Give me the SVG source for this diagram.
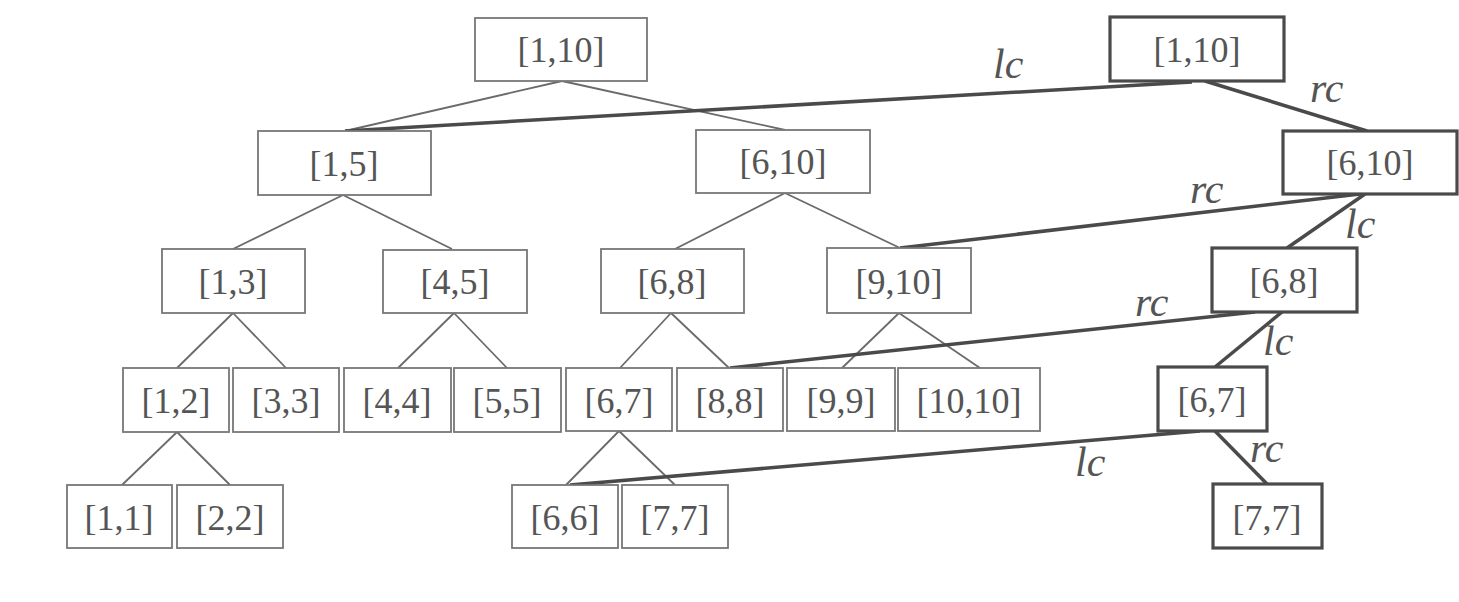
<svg xmlns="http://www.w3.org/2000/svg" width="1459" height="602" viewBox="0 0 1459 602">
<style>
.n rect{fill:#fff;stroke:#777;stroke-width:1.8}
.b rect{fill:#fff;stroke:#4a4a4a;stroke-width:3.2}
.n text,.b text{font-family:"Liberation Serif",serif;font-size:36px;fill:#555;text-anchor:middle}
.t{stroke:#6a6a6a;stroke-width:1.8;fill:none}
.k{stroke:#4a4a4a;stroke-width:3.5;fill:none}
.l{font-family:"Liberation Serif",serif;font-style:italic;font-size:42px;fill:#555}
</style>
<rect width="1459" height="602" fill="#fff"/>
<g id="connectors">
<line class="t" x1="562" y1="81" x2="345" y2="131"/>
<line class="t" x1="562" y1="81" x2="785" y2="130"/>
<line class="t" x1="343" y1="195" x2="233" y2="249"/>
<line class="t" x1="343" y1="195" x2="452" y2="249"/>
<line class="t" x1="785" y1="193" x2="675" y2="249"/>
<line class="t" x1="785" y1="193" x2="900" y2="248"/>
<line class="t" x1="233" y1="313" x2="177" y2="368"/>
<line class="t" x1="233" y1="313" x2="286" y2="368"/>
<line class="t" x1="454" y1="313" x2="398" y2="368"/>
<line class="t" x1="454" y1="313" x2="507" y2="368"/>
<line class="t" x1="671" y1="313" x2="620" y2="368"/>
<line class="t" x1="671" y1="313" x2="729" y2="368"/>
<line class="t" x1="899" y1="313" x2="842" y2="368"/>
<line class="t" x1="899" y1="313" x2="980" y2="368"/>
<line class="t" x1="177" y1="432" x2="122" y2="485"/>
<line class="t" x1="177" y1="432" x2="230" y2="485"/>
<line class="t" x1="619" y1="431" x2="566" y2="485"/>
<line class="t" x1="619" y1="431" x2="675" y2="485"/>
<line class="k" x1="1192" y1="82" x2="345" y2="131"/>
<line class="k" x1="1205" y1="81" x2="1367" y2="131"/>
<line class="k" x1="1360" y1="194" x2="900" y2="248"/>
<line class="k" x1="1365" y1="194" x2="1287" y2="248"/>
<line class="k" x1="1255" y1="312" x2="730" y2="368"/>
<line class="k" x1="1282" y1="312" x2="1215" y2="367"/>
<line class="k" x1="1200" y1="431" x2="570" y2="485"/>
<line class="k" x1="1215" y1="431" x2="1267" y2="484"/>
<text class="l" x="993" y="78">lc</text>
<text class="l" x="1310" y="102">rc</text>
<text class="l" x="1190" y="203">rc</text>
<text class="l" x="1345" y="238">lc</text>
<text class="l" x="1135" y="316">rc</text>
<text class="l" x="1263" y="355">lc</text>
<text class="l" x="1075" y="476">lc</text>
<text class="l" x="1250" y="462">rc</text>
</g>
<g id="n1-10" class="n"><rect x="475" y="18" width="172" height="63"/><text x="561" y="62">[1,10]</text></g>
<g id="n1-5" class="n"><rect x="258" y="131" width="173" height="64"/><text x="344" y="176">[1,5]</text></g>
<g id="n6-10" class="n"><rect x="696" y="130" width="174" height="63"/><text x="783" y="174">[6,10]</text></g>
<g id="n1-3" class="n"><rect x="162" y="249" width="143" height="64"/><text x="233" y="294">[1,3]</text></g>
<g id="n4-5" class="n"><rect x="383" y="250" width="144" height="63"/><text x="455" y="294">[4,5]</text></g>
<g id="n6-8" class="n"><rect x="601" y="249" width="143" height="64"/><text x="672" y="294">[6,8]</text></g>
<g id="n9-10" class="n"><rect x="827" y="248" width="144" height="65"/><text x="899" y="294">[9,10]</text></g>
<g id="n1-2" class="n"><rect x="123" y="368" width="106" height="64"/><text x="176" y="413">[1,2]</text></g>
<g id="n3-3" class="n"><rect x="233" y="368" width="106" height="64"/><text x="286" y="413">[3,3]</text></g>
<g id="n4-4" class="n"><rect x="344" y="368" width="107" height="64"/><text x="397" y="413">[4,4]</text></g>
<g id="n5-5" class="n"><rect x="454" y="368" width="107" height="64"/><text x="507" y="413">[5,5]</text></g>
<g id="n6-7" class="n"><rect x="566" y="368" width="106" height="63"/><text x="619" y="413">[6,7]</text></g>
<g id="n8-8" class="n"><rect x="677" y="368" width="106" height="63"/><text x="730" y="413">[8,8]</text></g>
<g id="n9-9" class="n"><rect x="787" y="368" width="108" height="63"/><text x="841" y="413">[9,9]</text></g>
<g id="n10-10" class="n"><rect x="898" y="368" width="142" height="63"/><text x="969" y="413">[10,10]</text></g>
<g id="n1-1" class="n"><rect x="67" y="485" width="105" height="63"/><text x="119" y="530">[1,1]</text></g>
<g id="n2-2" class="n"><rect x="177" y="485" width="106" height="63"/><text x="230" y="530">[2,2]</text></g>
<g id="n6-6" class="n"><rect x="512" y="485" width="106" height="63"/><text x="565" y="530">[6,6]</text></g>
<g id="n7-7" class="n"><rect x="622" y="485" width="106" height="63"/><text x="675" y="530">[7,7]</text></g>
<g id="r1-10" class="b"><rect x="1110" y="17" width="174" height="64"/><text x="1197" y="62">[1,10]</text></g>
<g id="r6-10" class="b"><rect x="1283" y="131" width="174" height="63"/><text x="1370" y="175">[6,10]</text></g>
<g id="r6-8" class="b"><rect x="1212" y="248" width="145" height="64"/><text x="1284" y="293">[6,8]</text></g>
<g id="r6-7" class="b"><rect x="1158" y="367" width="109" height="64"/><text x="1212" y="412">[6,7]</text></g>
<g id="r7-7" class="b"><rect x="1213" y="484" width="109" height="64"/><text x="1267" y="530">[7,7]</text></g>
</svg>
